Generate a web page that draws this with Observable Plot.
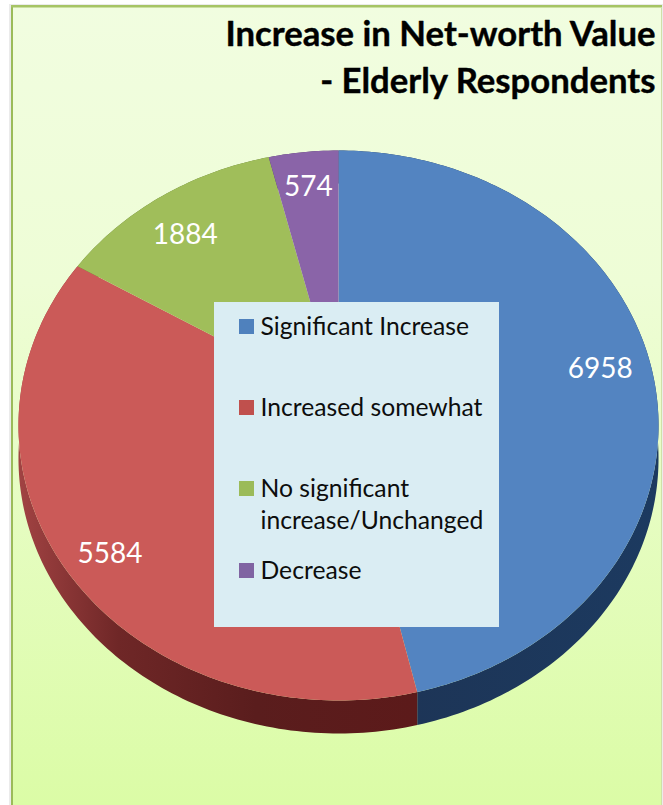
<!DOCTYPE html>
<html>
<head>
<meta charset="utf-8">
<style>html,body{margin:0;padding:0;background:#fff;overflow:hidden}svg{display:block}</style>
<script src="https://cdn.jsdelivr.net/npm/d3@7"></script>
<script src="https://cdn.jsdelivr.net/npm/@observablehq/plot@0.6"></script>
</head>
<body>
<script>
const categories = ["Significant Increase", "Increased somewhat", "No significant\nincrease/Unchanged", "Decrease"];
const values = [6958, 5584, 1884, 574];
const faceColors = ["#5384c1", "#cb5a58", "#a0be5a", "#8a64a8"];
const swatchColors = ["#4f81bd", "#c0504d", "#9bbb59", "#8064a2"];
const titleText = "Increase in Net-worth Value\n- Elderly Respondents";

const W = 663, H = 805;
const cx = 338, cy = 400, Rx = 318.7, Ry = 272.7, k = 0.0909, depth = 33;
const project = (a, r = 1) => {
  const X = r * Math.sin(a), Y = r * Math.cos(a), w = 1 + k * Y;
  return {x: cx + Rx * X / w, y: cy - Ry * Y / w};
};
const arcs = d3.pie().sort(null)(values);
const DEG = Math.PI / 180;
const arcPoints = (s) => {
  const n = Math.max(2, Math.ceil((s.endAngle - s.startAngle) / DEG));
  return d3.range(n + 1).map(i => project(s.startAngle + (s.endAngle - s.startAngle) * i / n));
};
const faces = arcs.flatMap((s, i) => [{x: cx, y: cy}, ...arcPoints(s)].map(p => ({...p, i, fill: faceColors[i]})));
const wallFills = ["url(#wallBlue)", "url(#wallRed)", "#5d7532", "#4c3a63"];
const walls = arcs.flatMap((s, i) => {
  const a = arcPoints(s);
  return [...a, ...a.slice().reverse().map(p => ({x: p.x, y: p.y + depth}))].map(p => ({...p, i, fill: wallFills[i]}));
});
const labelNudge = [[-5, -5], [1, 11], [-2, 10], [0, 0]];
const labels = arcs.map((s, i) => {
  const p = project((s.startAngle + s.endAngle) / 2, 0.85);
  return {x: p.x + labelNudge[i][0], y: p.y + labelNudge[i][1], text: String(values[i])};
});
const legendTop = [319, 400, 481, 563];
const legend = categories.map((c, i) => ({c, top: legendTop[i], fill: swatchColors[i]}));

const defs = () => {
  const svg = d3.create("svg:defs");
  const grad = (id, coords, stops) => {
    const g = svg.append("linearGradient").attr("id", id).attr("gradientUnits", "userSpaceOnUse")
      .attr("x1", coords[0]).attr("y1", coords[1]).attr("x2", coords[2]).attr("y2", coords[3]);
    stops.forEach(([o, c]) => g.append("stop").attr("offset", o).attr("stop-color", c));
  };
  grad("bg", [0, 0, 0, H], [[0, "#f1fde0"], [0.35, "#eefdd6"], [1, "#dbfca6"]]);
  grad("wallRed", [20, 0, 412, 0], [[0, "#a04242"], [0.25, "#6f2727"], [0.6, "#5a1d1d"], [1, "#5c1a1a"]]);
  grad("wallBlue", [412, 0, 660, 0], [[0, "#1d3557"], [1, "#1c3a60"]]);
  return svg.node();
};

const box = (x1, y1, x2, y2, extra) => Plot.rect([{}], {x1: () => x1, x2: () => x2, y1: () => y1, y2: () => y2, ...extra});
const font = "Lato, 'Noto Sans', sans-serif";

const chart = Plot.plot({
  width: W, height: H, margin: 0,
  style: {background: "#fff"},
  x: {domain: [0, W], range: [0, W], axis: null},
  y: {domain: [0, H], range: [0, H], axis: null},
  color: {type: "identity"},
  marks: [
    defs,
    box(9, 4, 663, H, {fill: "#e2e2e2", opacity: 0.7}),
    box(12, 6, 662, H, {fill: "url(#bg)"}),
    box(11, 5, 13, H, {fill: "#9bbb59"}),
    box(11, 5, 662, 7.5, {fill: "#a6c465"}),
    box(661, 7, 662, H, {fill: "#cfe0a8"}),
    Plot.line(walls.filter(d => d.i > 1), {x: "x", y: "y", z: "i", fill: d => d.fill, stroke: "none"}),
    Plot.line(walls.filter(d => d.i === 0), {x: "x", y: "y", z: "i", fill: "url(#wallBlue)", stroke: "none"}),
    Plot.line(walls.filter(d => d.i === 1), {x: "x", y: "y", z: "i", fill: "url(#wallRed)", stroke: "none"}),
    Plot.line(faces, {x: "x", y: "y", z: "i", fill: d => d.fill, stroke: "none"}),
    Plot.text(labels, {x: "x", y: "y", text: "text", fill: "#fff", fontSize: 28, fontFamily: font}),
    box(214, 302, 499, 627, {fill: "#daedf3"}),
    Plot.rect(legend, {x1: () => 239, x2: () => 254, y1: d => d.top, y2: d => d.top + 15, fill: "fill"}),
    Plot.text(legend, {x: () => 260, y: d => d.top - 7, text: "c", textAnchor: "start", lineAnchor: "top", lineHeight: 32 / 24.7, fill: "#0d0d0d", fontSize: 24.7, fontFamily: font}),
    Plot.text([titleText], {x: () => 655, y: () => 12, text: d => d, textAnchor: "end", lineAnchor: "top", lineHeight: 47 / 34.7, fill: "#000", stroke: "#000", strokeWidth: 0.4, fontSize: 34.7, fontWeight: 700, fontFamily: font})
  ]
});
document.body.append(chart);
</script>
</body>
</html>
